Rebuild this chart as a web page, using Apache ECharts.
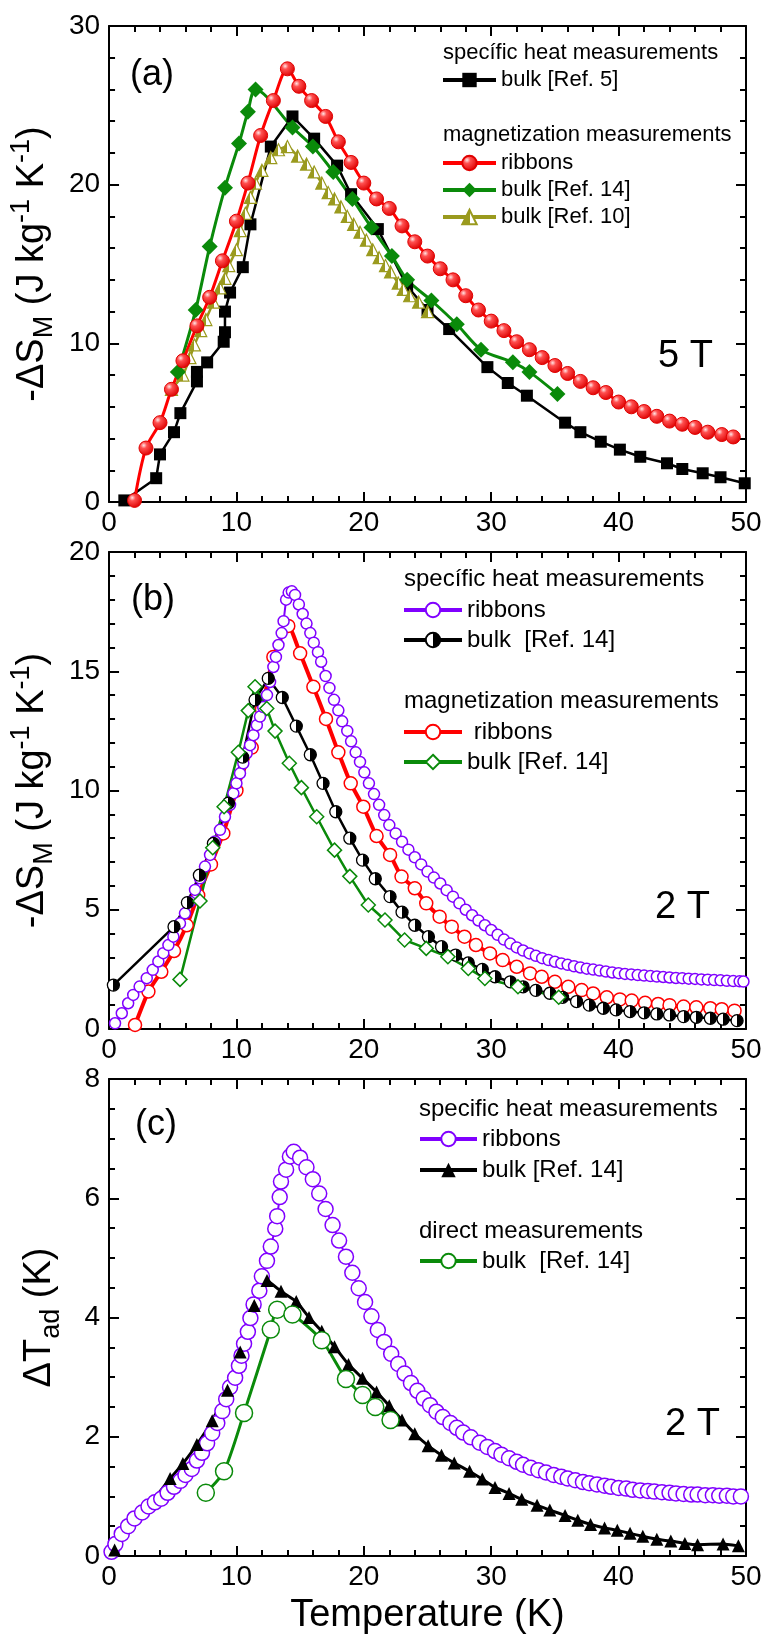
<!DOCTYPE html>
<html>
<head>
<meta charset="utf-8">
<title>Entropy change and adiabatic temperature change: ribbons vs bulk</title>
<script src="https://cdn.jsdelivr.net/npm/echarts@6/dist/echarts.min.js"></script>
<style>
  html, body { margin: 0; padding: 0; background: #fff; }
  #chart { width: 768px; height: 1639px; }
</style>
</head>
<body>
<div id="chart"></div>
<script>
var FONT = '"Liberation Sans", Arial, Helvetica, sans-serif';

// ---- panel (a): -dS_M at 5 T ----
var aBulk5T = [1.2, 3.7, 4.0, 5.1, 5.6, 6.9, 6.9, 7.7, 9.0, 9.1, 9.1, 9.5, 10.5, 11.1, 12.7, 14.4, 16.1, 17.9, 19.0, 21.1, 23.4, 25.0, 26.7, 29.7, 31.3, 32.8, 35.8, 37.0, 38.6, 40.1, 41.7, 43.8, 45.0, 46.6, 48.0, 49.9];
var aBulk5 = [0.1, 1.5, 3.0, 4.4, 5.6, 7.6, 8.2, 8.8, 10.1, 10.7, 12.0, 13.2, 14.8, 17.5, 22.4, 24.3, 22.9, 21.2, 19.4, 17.2, 13.6, 12.1, 10.9, 8.5, 7.5, 6.7, 5.0, 4.4, 3.8, 3.3, 2.85, 2.44, 2.08, 1.81, 1.56, 1.18];

var aRibT = [2.0, 2.9, 4.0, 4.9, 5.8, 6.9, 7.9, 8.9, 10.0, 10.9, 11.9, 12.9, 14.0, 14.9, 15.9, 17.0, 18.0, 19.0, 20.0, 21.0, 22.0, 23.0, 24.0, 25.0, 26.0, 27.0, 28.0, 29.0, 30.0, 31.0, 32.0, 33.0, 34.0, 35.0, 36.0, 37.0, 38.0, 39.0, 40.0, 41.0, 42.0, 43.0, 44.0, 45.0, 46.0, 47.0, 48.1, 49.0];
var aRib = [0.1, 3.4, 5.0, 7.1, 8.9, 11.1, 12.9, 15.2, 17.7, 20.1, 23.1, 25.3, 27.3, 26.2, 25.3, 24.3, 22.7, 21.4, 20.1, 19.1, 18.5, 17.4, 16.4, 15.5, 14.7, 14.0, 13.0, 12.1, 11.4, 10.8, 10.1, 9.6, 9.1, 8.6, 8.1, 7.6, 7.2, 6.9, 6.3, 6.0, 5.7, 5.4, 5.1, 4.9, 4.7, 4.4, 4.25, 4.1];

var aBulk14T = [5.4, 6.8, 7.9, 9.1, 10.2, 10.9, 11.5, 14.4, 16.0, 17.6, 19.1, 20.6, 22.2, 23.4, 25.3, 27.3, 29.2, 31.7, 33.0, 35.2];
var aBulk14 = [8.2, 12.1, 16.1, 19.8, 22.6, 24.6, 26.0, 23.6, 22.4, 20.8, 19.1, 17.3, 15.5, 14.0, 12.7, 11.2, 9.6, 8.8, 8.2, 6.8];

var aBulk10T = [4.9, 5.8, 6.35, 6.7, 7.2, 7.6, 8.2, 8.7, 9.1, 9.4, 10.0, 10.3, 10.7, 11.1, 11.5, 12.0, 12.7, 13.3, 14.0, 14.8, 15.5, 16.1, 16.7, 17.2, 17.7, 18.2, 18.7, 19.2, 19.7, 20.2, 20.7, 21.2, 21.7, 22.1, 22.7, 23.1, 23.6, 24.3, 25.0];
var aBulk10 = [7.1, 8.0, 9.1, 9.9, 10.8, 11.5, 12.6, 13.5, 14.1, 14.9, 15.9, 17.1, 18.2, 19.2, 20.1, 20.9, 21.7, 22.2, 22.4, 21.8, 21.3, 20.8, 20.1, 19.5, 19.1, 18.6, 18.0, 17.5, 17.0, 16.5, 15.9, 15.4, 14.9, 14.5, 13.8, 13.4, 13.0, 12.6, 12.0];

// ---- panel (b): -dS_M at 2 T ----
var bRibCpT = [0.47, 1.0, 1.5, 1.9, 2.4, 2.96, 3.43, 3.87, 4.26, 4.66, 5.05, 5.57, 5.96, 6.36, 6.75, 7.14, 7.53, 7.93, 8.32, 8.71, 9.1, 9.5, 9.76, 10.0, 10.28, 10.54, 10.8, 11.07, 11.33, 11.6, 11.85, 12.1, 12.4, 12.64, 12.9, 13.1, 13.3, 13.55, 13.7, 13.9, 14.1, 14.35, 14.6, 14.9, 15.2, 15.5, 15.8, 16.07, 16.4, 16.65, 17.0, 17.3, 17.66, 18.0, 18.3, 18.7, 19.0, 19.36, 19.7, 20.04, 20.4, 20.8, 21.2, 21.6, 22.0, 22.5, 23.0, 23.5, 24.0, 24.5, 25.0, 25.5, 26.0, 26.5, 27.0, 27.5, 28.0, 28.5, 29.0, 29.5, 30.0, 30.5, 31.0, 31.5, 32.0, 32.5, 33.0, 33.5, 34.0, 34.5, 35.0, 35.5, 36.0, 36.5, 37.0, 37.5, 38.0, 38.5, 39.0, 39.5, 40.0, 40.5, 41.0, 41.5, 42.0, 42.5, 43.0, 43.5, 44.0, 44.5, 45.0, 45.5, 46.0, 46.5, 47.0, 47.5, 48.0, 48.5, 49.0, 49.5, 49.8];
var bRibCp = [0.24, 0.66, 1.08, 1.43, 1.78, 2.13, 2.48, 2.83, 3.18, 3.52, 3.87, 4.43, 4.85, 5.34, 5.83, 6.32, 6.81, 7.3, 7.86, 8.35, 8.9, 9.4, 9.88, 10.3, 10.72, 11.14, 11.56, 11.9, 12.32, 12.74, 13.1, 13.5, 14.0, 14.55, 15.18, 15.6, 16.1, 16.6, 17.1, 18.0, 18.3, 18.35, 18.2, 17.8, 17.4, 17.0, 16.6, 16.2, 15.8, 15.4, 14.8, 14.3, 13.8, 13.36, 12.9, 12.5, 12.06, 11.6, 11.2, 10.76, 10.3, 9.85, 9.4, 8.97, 8.55, 8.2, 7.85, 7.52, 7.2, 6.9, 6.6, 6.35, 6.1, 5.82, 5.55, 5.27, 5.0, 4.77, 4.55, 4.35, 4.15, 3.95, 3.75, 3.58, 3.42, 3.29, 3.17, 3.07, 2.97, 2.89, 2.82, 2.75, 2.69, 2.63, 2.58, 2.53, 2.49, 2.45, 2.41, 2.37, 2.34, 2.31, 2.29, 2.26, 2.24, 2.22, 2.2, 2.18, 2.16, 2.14, 2.13, 2.11, 2.1, 2.08, 2.07, 2.05, 2.04, 2.02, 2.01, 2.0, 1.99];

var bBulkCpT = [0.34, 5.1, 6.15, 7.09, 8.19, 9.37, 10.49, 11.46, 12.5, 13.6, 14.7, 15.8, 16.8, 17.8, 18.9, 19.9, 20.9, 22.06, 23.0, 24.0, 25.07, 26.1, 27.2, 28.2, 29.3, 30.3, 31.5, 32.5, 33.5, 34.6, 35.6, 36.7, 37.7, 38.8, 39.8, 40.9, 42.0, 43.0, 44.0, 45.1, 46.1, 47.2, 48.2, 49.3];
var bBulkCp = [1.84, 4.29, 5.3, 6.45, 7.78, 9.47, 11.4, 13.8, 14.7, 13.9, 12.7, 11.5, 10.3, 9.11, 8.0, 7.08, 6.3, 5.55, 4.9, 4.35, 3.87, 3.45, 3.1, 2.77, 2.5, 2.19, 1.98, 1.77, 1.62, 1.5, 1.33, 1.15, 1.0, 0.87, 0.8, 0.73, 0.68, 0.63, 0.59, 0.52, 0.49, 0.45, 0.41, 0.35];

var bRibMT = [2.04, 3.09, 4.1, 5.1, 6.1, 7.0, 8.0, 8.97, 10.0, 11.2, 12.0, 12.9, 14.07, 15.0, 16.04, 17.03, 18.0, 18.97, 19.96, 21.0, 22.06, 22.96, 24.0, 24.9, 25.95, 26.9, 27.9, 28.8, 29.9, 30.9, 32.0, 33.05, 33.96, 35.0, 36.05, 37.1, 38.0, 39.07, 40.1, 41.03, 42.08, 43.1, 44.0, 45.1, 46.1, 47.2, 48.1, 49.1];
var bRibM = [0.17, 1.57, 2.4, 3.27, 4.35, 5.6, 6.9, 8.2, 10.0, 11.8, 13.4, 15.6, 16.9, 15.75, 14.35, 13.0, 11.6, 10.3, 9.32, 8.09, 7.3, 6.39, 5.9, 5.27, 4.71, 4.29, 3.87, 3.52, 3.17, 2.89, 2.61, 2.33, 2.19, 1.98, 1.77, 1.63, 1.49, 1.33, 1.24, 1.19, 1.10, 1.05, 1.0, 0.94, 0.91, 0.87, 0.83, 0.77];

var bBulkMT = [5.57, 7.14, 8.14, 9.03, 10.15, 10.93, 11.46, 12.38, 13.03, 14.15, 15.1, 16.3, 17.7, 18.9, 20.35, 21.66, 23.2, 24.9, 26.6, 28.2, 29.5, 32.1, 35.3];
var bBulkM = [2.08, 5.37, 7.6, 9.32, 11.6, 13.35, 14.35, 13.44, 12.49, 11.14, 10.12, 8.9, 7.5, 6.4, 5.2, 4.57, 3.73, 3.38, 3.03, 2.54, 2.12, 1.77, 1.33];

// ---- panel (c): dT_ad at 2 T ----
var cRibCpT = [0.2, 0.5, 1.0, 1.5, 2.0, 2.6, 3.1, 3.6, 4.1, 4.6, 5.1, 5.6, 6.0, 6.5, 6.9, 7.3, 7.7, 8.1, 8.5, 8.9, 9.2, 9.5, 9.9, 10.2, 10.4, 10.6, 10.9, 11.1, 11.35, 11.8, 12.0, 12.4, 12.7, 13.05, 13.2, 13.4, 13.5, 13.9, 14.2, 14.5, 15.0, 15.5, 16.0, 16.5, 17.0, 17.55, 18.06, 18.6, 19.1, 19.6, 20.1, 20.6, 21.1, 21.6, 22.15, 22.7, 23.2, 23.7, 24.2, 24.7, 25.2, 25.7, 26.2, 26.8, 27.3, 27.8, 28.4, 29.1, 29.7, 30.3, 30.8, 31.4, 32.0, 32.5, 33.1, 33.7, 34.3, 34.9, 35.5, 36.0, 36.6, 37.2, 37.7, 38.3, 38.9, 39.4, 40.0, 40.6, 41.1, 41.7, 42.3, 42.8, 43.4, 44.0, 44.5, 45.1, 45.7, 46.2, 46.8, 47.4, 47.9, 48.5, 49.0, 49.6];
var cRibCp = [0.07, 0.2, 0.37, 0.5, 0.63, 0.73, 0.83, 0.9, 0.96, 1.06, 1.16, 1.26, 1.36, 1.46, 1.6, 1.73, 1.89, 2.06, 2.23, 2.43, 2.63, 2.83, 2.99, 3.19, 3.36, 3.56, 3.76, 3.99, 4.22, 4.45, 4.69, 4.95, 5.19, 5.49, 5.7, 6.02, 6.28, 6.48, 6.7, 6.78, 6.68, 6.52, 6.32, 6.08, 5.82, 5.55, 5.29, 5.02, 4.75, 4.49, 4.26, 4.02, 3.79, 3.59, 3.39, 3.22, 3.06, 2.9, 2.77, 2.64, 2.53, 2.42, 2.33, 2.23, 2.15, 2.07, 1.99, 1.9, 1.83, 1.76, 1.7, 1.64, 1.58, 1.53, 1.48, 1.44, 1.4, 1.36, 1.33, 1.3, 1.27, 1.24, 1.22, 1.2, 1.18, 1.16, 1.14, 1.13, 1.11, 1.1, 1.09, 1.08, 1.07, 1.06, 1.05, 1.04, 1.03, 1.03, 1.02, 1.02, 1.01, 1.01, 1.0, 1.0];

var cBulkCpT = [0.44, 4.8, 5.8, 6.9, 8.1, 9.3, 10.3, 11.4, 12.4, 13.5, 14.7, 15.7, 16.7, 17.7, 18.8, 19.9, 21.0, 22.0, 23.0, 24.0, 25.05, 26.1, 27.1, 28.3, 29.3, 30.3, 31.4, 32.4, 33.6, 34.6, 35.8, 36.8, 37.8, 38.9, 39.9, 40.9, 41.9, 43.0, 44.1, 45.2, 46.2, 48.2, 49.4];
var cBulkCp = [0.1, 1.3, 1.55, 1.87, 2.27, 2.78, 3.42, 4.2, 4.62, 4.44, 4.27, 4.0, 3.77, 3.51, 3.21, 2.98, 2.75, 2.52, 2.28, 2.05, 1.85, 1.69, 1.56, 1.42, 1.29, 1.15, 1.05, 0.95, 0.85, 0.77, 0.68, 0.6, 0.53, 0.47, 0.43, 0.38, 0.33, 0.28, 0.25, 0.21, 0.19, 0.2, 0.17];

var cBulkDirT = [7.6, 9.03, 10.6, 12.7, 13.2, 14.4, 16.7, 18.6, 19.9, 20.9, 22.1];
var cBulkDir = [1.06, 1.42, 2.4, 3.8, 4.13, 4.05, 3.62, 2.97, 2.7, 2.5, 2.28];

// axis ranges / ticks per panel: min, max, major step, minor splits
var xRange = [0, 50, 10, 5];
var yRanges = [[0, 30, 10, 5], [0, 20, 5, 5], [0, 8, 2, 4]];

// legend texts (series ids are unique, shown text may repeat)
var legendText = {
  a1: 'bulk [Ref. 5]', a2: 'ribbons', a3: 'bulk [Ref. 14]', a4: 'bulk [Ref. 10]',
  b1: 'ribbons', b2: 'bulk  [Ref. 14]', b3: ' ribbons', b4: 'bulk [Ref. 14]',
  c1: 'ribbons', c2: 'bulk [Ref. 14]', c3: 'bulk  [Ref. 14]'
};

var RED = '#ff0000', GREEN = '#0a8a0a', PURPLE = '#8000ff', OLIVE = '#9a9a1e';

var grids = [
  { left: 109, right: 22, top: 26, height: 476 },
  { left: 109, right: 22, top: 552, height: 477 },
  { left: 109, right: 22, top: 1079, height: 477 }
];

function zip(xs, ys) {
  var out = [];
  for (var i = 0; i < Math.min(xs.length, ys.length); i++) out.push([xs[i], ys[i]]);
  return out;
}

function halfFill(left, right) {
  return new echarts.graphic.LinearGradient(0, 0, 1, 0, [
    { offset: 0, color: left }, { offset: 0.5, color: left },
    { offset: 0.5, color: right }, { offset: 1, color: right }
  ]);
}

var tickStyle = { color: '#000', width: 2 };

function xAxisFor(g, pos) {
  var ax = {
    type: 'value', gridIndex: g, position: pos,
    min: xRange[0], max: xRange[1], interval: xRange[2],
    axisLine: { show: true, onZero: false, lineStyle: tickStyle },
    axisTick: { show: true, inside: true, length: 10, lineStyle: tickStyle },
    minorTick: { show: true, splitNumber: xRange[3], length: 6, lineStyle: tickStyle },
    splitLine: { show: false },
    axisLabel: { show: pos === 'bottom', fontSize: 28, color: '#000', fontFamily: FONT, margin: 7 }
  };
  if (g === 2 && pos === 'bottom') {
    ax.name = 'Temperature (K)';
    ax.nameLocation = 'middle';
    ax.nameGap = 41;
    ax.nameTextStyle = { fontSize: 38, color: '#000', fontFamily: FONT };
  }
  return ax;
}

var supRich = {
  sub: { fontSize: 27, lineHeight: 27, verticalAlign: 'bottom', fontFamily: FONT, color: '#000' },
  sup: { fontSize: 27, lineHeight: 27, verticalAlign: 'top', fontFamily: FONT, color: '#000' }
};

function yAxisFor(g, pos) {
  var r = yRanges[g];
  var ax = {
    type: 'value', gridIndex: g, position: pos,
    min: r[0], max: r[1], interval: r[2],
    axisLine: { show: true, onZero: false, lineStyle: tickStyle },
    axisTick: { show: true, inside: true, length: 10, lineStyle: tickStyle },
    minorTick: { show: true, splitNumber: r[3], length: 6, lineStyle: tickStyle },
    splitLine: { show: false },
    axisLabel: { show: pos === 'left', fontSize: 28, color: '#000', fontFamily: FONT, margin: 9 }
  };
  if (pos === 'left') {
    ax.name = g < 2 ? '-ΔS{sub|M} (J kg{sup|-1} K{sup|-1})' : 'ΔT{sub|ad} (K)';
    ax.nameLocation = 'middle';
    ax.nameRotate = 90;
    ax.nameGap = 44;
    ax.nameTextStyle = { fontSize: 38, lineHeight: 50, color: '#000', fontFamily: FONT, rich: supRich };
  }
  return ax;
}

function series(id, g, xs, ys, opt) {
  var s = {
    name: id, id: id, type: 'line', xAxisIndex: g * 2, yAxisIndex: g * 2,
    data: zip(xs, ys), showAllSymbol: true, clip: true, animation: false
  };
  for (var k in opt) s[k] = opt[k];
  return s;
}

var redBall = new echarts.graphic.RadialGradient(0.35, 0.32, 0.7, [
  { offset: 0, color: '#ffe6e6' }, { offset: 0.3, color: '#ff5050' }, { offset: 1, color: '#dd0000' }
]);

var seriesList = [
  // (a)
  series('a1', 0, aBulk5T, aBulk5, {
    symbol: 'rect', symbolSize: 12,
    lineStyle: { color: '#000', width: 2.5 }, itemStyle: { color: '#000' }
  }),
  series('a4', 0, aBulk10T, aBulk10, {
    symbol: 'triangle', symbolSize: 12, smooth: 0.2,
    lineStyle: { color: OLIVE, width: 2.5 },
    itemStyle: { color: halfFill(OLIVE, '#ffffff'), borderColor: OLIVE, borderWidth: 1.2 }
  }),
  series('a3', 0, aBulk14T, aBulk14, {
    symbol: 'diamond', symbolSize: 16, smooth: 0.3,
    lineStyle: { color: GREEN, width: 3 }, itemStyle: { color: GREEN }
  }),
  series('a2', 0, aRibT, aRib, {
    symbol: 'circle', symbolSize: 14, smooth: 0.3,
    lineStyle: { color: RED, width: 3 },
    itemStyle: { color: redBall, borderColor: '#e00000', borderWidth: 1 }
  }),
  // (b)
  series('b3', 1, bRibMT, bRibM, {
    symbol: 'circle', symbolSize: 13, smooth: 0.2,
    lineStyle: { color: RED, width: 4 },
    itemStyle: { color: '#fff', borderColor: RED, borderWidth: 1.5 }
  }),
  series('b1', 1, bRibCpT, bRibCp, {
    symbol: 'circle', symbolSize: 11,
    lineStyle: { color: PURPLE, width: 2 },
    itemStyle: { color: '#fff', borderColor: PURPLE, borderWidth: 1.5 }
  }),
  series('b2', 1, bBulkCpT, bBulkCp, {
    symbol: 'circle', symbolSize: 12,
    lineStyle: { color: '#000', width: 2.5 },
    itemStyle: { color: halfFill('#ffffff', '#000000'), borderColor: '#000', borderWidth: 1.3 }
  }),
  series('b4', 1, bBulkMT, bBulkM, {
    symbol: 'diamond', symbolSize: 14,
    lineStyle: { color: GREEN, width: 2.5 },
    itemStyle: { color: '#fff', borderColor: GREEN, borderWidth: 1.5 }
  }),
  // (c)
  series('c1', 2, cRibCpT, cRibCp, {
    symbol: 'circle', symbolSize: 15,
    lineStyle: { color: PURPLE, width: 2 },
    itemStyle: { color: '#fff', borderColor: PURPLE, borderWidth: 1.5 }
  }),
  series('c2', 2, cBulkCpT, cBulkCp, {
    symbol: 'triangle', symbolSize: 13, smooth: 0.1,
    lineStyle: { color: '#000', width: 3 }, itemStyle: { color: '#000' }
  }),
  series('c3', 2, cBulkDirT, cBulkDir, {
    symbol: 'circle', symbolSize: 17, smooth: 0.25,
    lineStyle: { color: GREEN, width: 3 },
    itemStyle: { color: '#fff', borderColor: GREEN, borderWidth: 1.5 }
  })
];

function legendBlock(names, left, top, w, fontSize, gap) {
  return {
    orient: 'vertical', left: left, top: top, padding: 0,
    itemWidth: w, itemHeight: 18, itemGap: gap, selectedMode: false,
    data: names,
    lineStyle: { width: 4 },
    formatter: function (n) { return legendText[n]; },
    textStyle: { fontSize: fontSize, color: '#000', fontFamily: FONT }
  };
}

function label(text, x, y, size) {
  return {
    type: 'text', x: x, y: y, z: 100,
    style: { text: text, fontSize: size, fontFamily: FONT, fill: '#000', verticalAlign: 'middle' }
  };
}

var chart = echarts.init(document.getElementById('chart'), null, { renderer: 'canvas' });

chart.setOption({
  backgroundColor: '#fff',
  animation: false,
  grid: grids,
  xAxis: [xAxisFor(0, 'bottom'), xAxisFor(0, 'top'), xAxisFor(1, 'bottom'), xAxisFor(1, 'top'), xAxisFor(2, 'bottom'), xAxisFor(2, 'top')],
  yAxis: [yAxisFor(0, 'left'), yAxisFor(0, 'right'), yAxisFor(1, 'left'), yAxisFor(1, 'right'), yAxisFor(2, 'left'), yAxisFor(2, 'right')],
  legend: [
    legendBlock(['a1'], 441, 69, 53, 22, 5),
    legendBlock(['a2', 'a3', 'a4'], 441, 152, 53, 22, 5),
    legendBlock(['b1', 'b2'], 402, 598, 58, 24, 6),
    legendBlock(['b3', 'b4'], 402, 720, 58, 24, 6),
    legendBlock(['c1', 'c2'], 418, 1127, 57, 24, 7),
    legendBlock(['c3'], 418, 1249, 57, 24, 7)
  ],
  graphic: [
    label('(a)', 130, 75, 36),
    label('specífic heat measurements', 443, 53, 22),
    label('magnetization measurements', 443, 135, 22),
    label('5 T', 658, 357, 38),
    label('(b)', 131, 600, 36),
    label('specífic heat measurements', 404, 579, 24),
    label('magnetization measurements', 404, 701, 24),
    label('2 T', 655, 908, 38),
    label('(c)', 135, 1125, 36),
    label('specific heat measurements', 419, 1109, 24),
    label('direct measurements', 419, 1231, 24),
    label('2 T', 665, 1425, 38)
  ],
  series: seriesList
});
</script>
</body>
</html>
